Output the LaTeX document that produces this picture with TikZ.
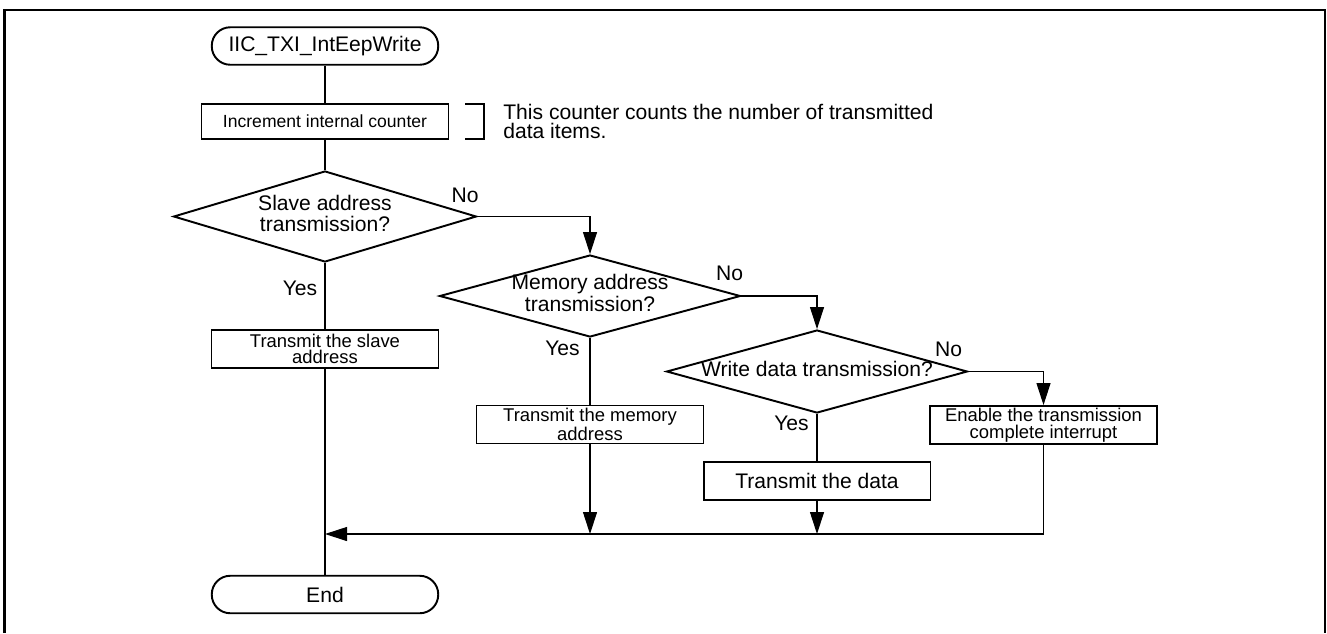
\documentclass[tikz,border=0pt]{standalone}
\usepackage{fontspec}
\setmainfont{Liberation Sans}
\usetikzlibrary{shapes.geometric, arrows.meta}
\tikzstyle{terminal} = [rectangle, rounded corners=0.37cm,
minimum width=4.53cm,
minimum height=0.75cm,
inner sep=0pt,
text centered,
draw=black, line width=1.1pt,
font=\fontsize{12}{12}\selectfont]
\tikzstyle{process} = [rectangle,
minimum width=4.54cm,
minimum height=0.76cm,
inner sep=0pt,
align=center,
draw=black, line width=1.1pt,
font=\fontsize{10.5}{9.5}\selectfont]
\tikzstyle{decision} = [diamond,
minimum width=6.02cm,
minimum height=1.64cm,
inner sep=0pt,
draw=black, line width=1.1pt,
font=\fontsize{12}{11.8}\selectfont]
\tikzstyle{answer} = [inner sep=0pt, font=\fontsize{12}{12}\selectfont]
\tikzstyle{line} = [line width=0.6pt]
\tikzstyle{arrow} = [line width=0.6pt,-{Triangle[length=0.44cm,width=0.28cm]}]
\newcommand{\qtext}[1]{\makebox[0pt]{\begin{tabular}{@{}c@{}}#1\end{tabular}}}

\begin{document}
\begin{tikzpicture}[x=0.02cm, y=-0.02cm]
        \useasboundingbox (0,0) rectangle (1327,633);
        \draw [line width=1.4pt] (4.5,633) -- (4.5,10) -- (1325,10) -- (1325,633);
        \node (start) [terminal] at (325,46) {IIC\_TXI\_IntEepWrite};
        \node (inc) [process, minimum width=4.94cm, minimum height=0.7cm, font=\fontsize{10}{10}\selectfont] at (325,121.5) {Increment internal counter};
        \node (note) [anchor=west, align=left, inner sep=0pt, font=\fontsize{12}{10.8}\selectfont] at (503,121) {This counter counts the number of transmitted\\data items.};
        \node (slaveq) [decision, minimum width=6.06cm, minimum height=1.82cm] at (325,216.5) {\qtext{Slave address\\transmission?}};
        \node (slave) [process] at (325,349) {Transmit the slave\\address};
        \node (memq) [decision] at (590,296) {\qtext{Memory address\\transmission?}};
        \node (mem) [process] at (590,424.5) {Transmit the memory\\address};
        \node (dataq) [decision, minimum height=1.66cm] at (817,371.5) {\qtext{Write data transmission?}};
        \node (data) [process, font=\fontsize{12}{12}\selectfont] at (817,481) {Transmit the data};
        \node (enable) [process] at (1043.5,425) {Enable the transmission\\complete interrupt};
        \node (end) [terminal] at (325,594.5) {End};
        \node (no1) [answer] at (465,195) {No};
        \node (yes1) [answer] at (300,288) {Yes};
        \node (no2) [answer] at (729.5,273) {No};
        \node (yes2) [answer] at (562.5,348) {Yes};
        \node (no3) [answer] at (948.5,349) {No};
        \node (yes3) [answer] at (791.5,423.5) {Yes};
        \coordinate (join) at (325,534);
        \draw [line] (465,104) -- (484,104) -- (484,139) -- (465,139);
        \draw [line] (start) -- (inc);
        \draw [line] (inc) -- (slaveq);
        \draw [line] (slaveq) -- (slave);
        \draw [line] (slave) -- (end);
        \draw [arrow] (slaveq.east) -| (memq.north);
        \draw [line] (memq) -- (mem);
        \draw [arrow] (memq.east) -| (dataq.north);
        \draw [line] (dataq) -- (data);
        \draw [arrow] (dataq.east) -| (enable.north);
        \draw [arrow] (mem) -- (mem |- join);
        \draw [arrow] (data) -- (data |- join);
        \draw [arrow] (enable) |- (join);
    \end{tikzpicture}
\end{document}
